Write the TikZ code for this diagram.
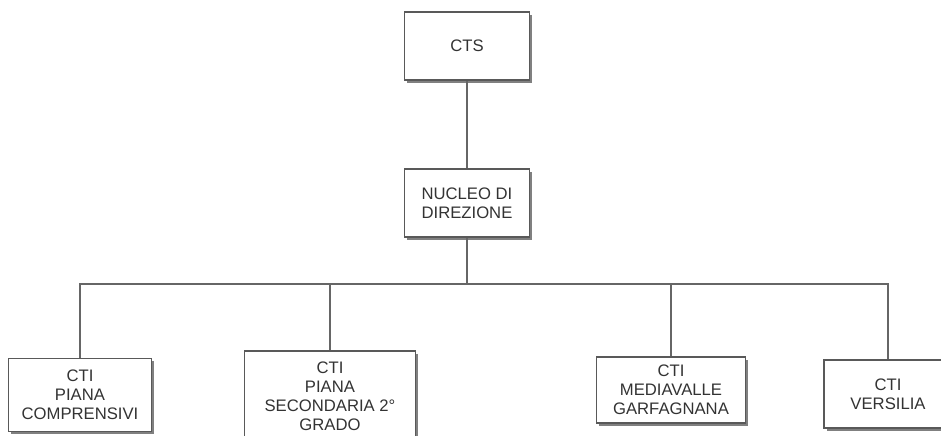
\documentclass[tikz,border=0pt]{standalone}
\usepackage{fontspec}
\setmainfont{Liberation Sans}
\usetikzlibrary{shadows}

\begin{document}
\begin{tikzpicture}[x=0.75pt, y=-0.75pt,
  box/.style={draw=black!65, fill=white, align=center, inner sep=0pt, line width=0.8pt,
    text=black!80, font=\fontsize{12.5}{14.3}\selectfont,
    drop shadow={shadow xshift=2pt, shadow yshift=-2pt, fill=black!50, opacity=1}},
  line/.style={draw=black!60, line width=0.9pt}]
\clip (0,0) rectangle (941,435);
\fill[white] (0,0) rectangle (941,435);

% top of the chart
\node[box, minimum width=93.75pt, minimum height=51pt] (cts) at (467,46) {CTS};
\node[box, minimum width=93.75pt, minimum height=51pt] (nucleo) at (467,203) {NUCLEO DI\\DIREZIONE};

% the four CTI
\node[box, minimum width=107.25pt, minimum height=54.75pt] (ctiPiana) at (80,395) {CTI\\PIANA\\COMPRENSIVI};
\node[box, minimum width=128.25pt, minimum height=67.5pt] (ctiSecondaria) at (330,396) {CTI\\PIANA\\SECONDARIA 2°\\GRADO};
\node[box, minimum width=111.75pt, minimum height=49.5pt] (ctiMediavalle) at (671,390) {CTI\\MEDIAVALLE\\GARFAGNANA};
\node[box, minimum width=96pt, minimum height=51pt] (ctiVersilia) at (888,394) {CTI\\VERSILIA};

\coordinate (bus) at (467,284);
\draw[line] (cts) -- (nucleo);
\draw[line] (nucleo) -- (bus);
\draw[line] (bus) -| (ctiPiana);
\draw[line] (bus) -| (ctiSecondaria);
\draw[line] (bus) -| (ctiMediavalle);
\draw[line] (bus) -| (ctiVersilia);
\end{tikzpicture}
\end{document}
